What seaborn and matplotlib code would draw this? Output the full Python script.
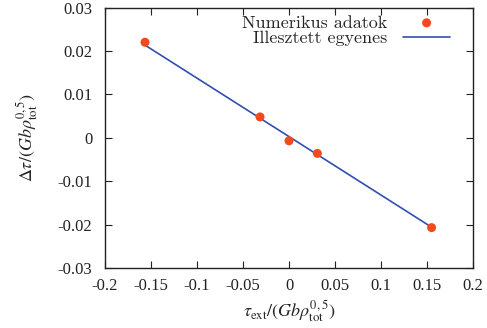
import matplotlib
matplotlib.use("Agg")
import matplotlib.pyplot as plt
import seaborn as sns
import pandas as pd

# Data
num_x = [-0.1565, -0.0315, 0.0, 0.0308, 0.155]
num_y = [0.0220, 0.0048, -0.0007, -0.0036, -0.0207]
fit_x = [-0.157, 0.155]
fit_y = [0.0214, -0.0206]
x_ticks = [-0.2, -0.15, -0.1, -0.05, 0, 0.05, 0.1, 0.15, 0.2]
y_ticks = [-0.03, -0.02, -0.01, 0, 0.01, 0.02, 0.03]
x_tick_labels = ["-0.2", "-0.15", "-0.1", "-0.05", "0", "0.05", "0.1", "0.15", "0.2"]
y_tick_labels = ["-0.03", "-0.02", "-0.01", "0", "0.01", "0.02", "0.03"]

sns.set_style("ticks")
plt.rcParams["font.family"] = ["Liberation Serif", "DejaVu Serif"]
plt.rcParams["mathtext.fontset"] = "stix"

fig = plt.figure(figsize=(4.87, 3.28), dpi=100)
ax = fig.add_axes([105 / 487, 1 - 268 / 328, (473 - 105) / 487, (268 - 7.5) / 328])

df_fit = pd.DataFrame({"x": fit_x, "y": fit_y})
df_num = pd.DataFrame({"x": num_x, "y": num_y})

sns.lineplot(data=df_fit, x="x", y="y", ax=ax, color="#2f4fb0", linewidth=1.2,
             label="Illesztett egyenes", zorder=2)
sns.scatterplot(data=df_num, x="x", y="y", ax=ax, color="#f24a1e", s=42,
                edgecolor="none", label="Numerikus adatok", zorder=3)

ax.set_xlim(-0.2, 0.2)
ax.set_ylim(-0.03, 0.03)
ax.set_xticks(x_ticks)
ax.set_xticklabels(x_tick_labels)
ax.set_yticks(y_ticks)
ax.set_yticklabels(y_tick_labels)
ax.tick_params(direction="in", length=5, width=0.8, top=True, right=True,
               labelsize=12, colors="#222222")
ax.tick_params(axis="x", pad=7)
ax.tick_params(axis="y", pad=9)
for s in ax.spines.values():
    s.set_linewidth(1.0)
    s.set_color("#222222")

ax.set_xlabel(r"$\tau_{\rm ext}/(Gb\rho_{\rm tot}^{0,5})$", fontsize=13, labelpad=3)
ax.set_ylabel(r"$\Delta\tau/(Gb\rho_{\rm tot}^{0,5})$", fontsize=13, labelpad=13)

handles, labels = ax.get_legend_handles_labels()
order = [labels.index("Numerikus adatok"), labels.index("Illesztett egyenes")]
leg = ax.legend([handles[i] for i in order], [labels[i] for i in order],
                loc="upper right", bbox_to_anchor=(0.972, 1.02), frameon=False,
                markerfirst=False, prop={"family": "cmr10", "size": 13},
                handlelength=2.6, handletextpad=0.9, labelspacing=0.0,
                borderaxespad=0.3)
for t in leg.get_texts():
    t.set_ha("right")
leg._legend_box.align = "right"

fig.savefig("out.png", dpi=100)
